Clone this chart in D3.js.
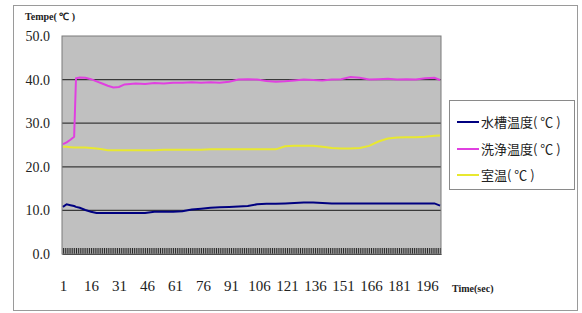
<!DOCTYPE html>
<html lang="en">
<head>
    <meta charset="UTF-8">
    <title>Temperature</title>
    <script src="https://d3js.org/d3.v7.min.js"></script>
    <style>
        body { margin: 0; background: #fff; }
        #canvas { display: block; }
        .tick text { font-family: "Liberation Serif", serif; fill: #222; }
        .legendText { font-family: "Noto Sans CJK JP", sans-serif; font-size: 13px; fill: #222; }
        .axisTitle { font-family: "Liberation Serif", serif; font-size: 10px; font-weight: bold; fill: #222; }
    </style>
</head>
<body>
<svg id="canvas" width="582" height="313"></svg>
<script>
    // time samples (sec) and the three series
    let times = [1, 3, 5, 7, 8, 10, 13, 16, 19, 22, 25, 28, 31, 34, 37, 40,
        45, 50, 55, 60, 65, 70, 75, 80, 85, 90, 95, 100, 105, 110, 115, 120,
        125, 130, 135, 140, 145, 150, 155, 160, 165, 170, 175, 180, 185, 190, 195, 200, 203]

    let tankTemp = [10.8, 11.4, 11.2, 11.0, 10.8, 10.6, 10.1, 9.7, 9.4, 9.4, 9.4, 9.4, 9.4, 9.4, 9.4, 9.4,
        9.4, 9.7, 9.7, 9.7, 9.8, 10.2, 10.4, 10.6, 10.7, 10.8, 10.9, 11.0, 11.4, 11.5, 11.5, 11.6,
        11.7, 11.8, 11.8, 11.7, 11.6, 11.6, 11.6, 11.6, 11.6, 11.6, 11.6, 11.6, 11.6, 11.6, 11.6, 11.6, 11.1]

    let washTemp = [25.2, 25.6, 26.2, 26.9, 40.3, 40.5, 40.4, 40.1, 39.6, 39.1, 38.6, 38.2, 38.3, 38.9, 39.0, 39.1,
        39.0, 39.2, 39.1, 39.3, 39.3, 39.4, 39.3, 39.4, 39.3, 39.5, 40.0, 40.1, 40.0, 39.7, 39.5, 39.6,
        39.8, 40.0, 39.9, 39.8, 40.0, 40.1, 40.6, 40.4, 40.0, 40.1, 40.2, 40.0, 40.1, 40.0, 40.3, 40.4, 39.9]

    let roomTemp = [24.6, 24.6, 24.5, 24.4, 24.4, 24.4, 24.4, 24.3, 24.2, 24.0, 23.8, 23.8, 23.8, 23.8, 23.8, 23.8,
        23.8, 23.8, 23.9, 23.9, 23.9, 23.9, 23.9, 24.0, 24.0, 24.0, 24.0, 24.0, 24.0, 24.0, 24.0, 24.7,
        24.8, 24.8, 24.8, 24.6, 24.3, 24.2, 24.2, 24.3, 24.8, 25.8, 26.5, 26.7, 26.8, 26.8, 26.9, 27.1, 27.2]

    let categories = d3.range(1, 204)
    let xLabels = [1, 16, 31, 46, 61, 76, 91, 106, 121, 136, 151, 166, 181, 196]
    let yTicks = [0, 10, 20, 30, 40, 50]

    let seriesNames = ["水槽温度( ℃ )", "洗浄温度( ℃ )", "室温( ℃ )"]
    let seriesColors = ["#000080", "#e040e0", "#e8e830"]
    let seriesData = [tankTemp, washTemp, roomTemp]

    let svg = d3.select('#canvas')
    let plot = {left: 62, right: 441, top: 36, bottom: 254}

    // chart area border
    svg.append("rect")
        .attr("x", 13.5).attr("y", 5.5)
        .attr("width", 564).attr("height", 305)
        .attr("fill", "#fff").attr("stroke", "#9a9a9a")

    let x = d3.scalePoint().domain(categories).range([plot.left, plot.right]).padding(0.5)
    let y = d3.scaleLinear().domain([0, 50]).range([plot.bottom, plot.top])

    // plot background
    svg.append("rect")
        .attr("x", plot.left).attr("y", plot.top)
        .attr("width", plot.right - plot.left).attr("height", plot.bottom - plot.top)
        .attr("fill", "#c0c0c0")

    // gridlines
    svg.append("g").selectAll("line")
        .data(yTicks.slice(1, 5))
        .enter().append("line")
        .attr("x1", plot.left).attr("x2", plot.right)
        .attr("y1", d => y(d)).attr("y2", d => y(d))
        .attr("stroke", "#3a3a3a").attr("stroke-width", 1.3)

    // y axis labels
    let yAxis = svg.append("g")
        .attr("transform", "translate(" + plot.left + ",0)")
        .call(d3.axisLeft(y).tickValues(yTicks).tickFormat(d3.format(".1f")).tickSize(0).tickPadding(12))
    yAxis.select(".domain").remove()
    yAxis.selectAll("text").style("font-size", "14px")

    // dense category tick marks along the bottom
    let tickAxis = svg.append("g")
        .attr("transform", "translate(0," + plot.bottom + ")")
        .call(d3.axisBottom(x).tickValues(categories).tickSizeInner(-6).tickSizeOuter(0).tickFormat(""))
    tickAxis.select(".domain").attr("stroke", "#222")
    tickAxis.selectAll(".tick line").attr("stroke", "#151515").attr("stroke-width", 0.9)

    // x labels
    let xAxis = svg.append("g")
        .attr("transform", "translate(0," + plot.bottom + ")")
        .call(d3.axisBottom(x).tickValues(xLabels).tickSize(0).tickPadding(26))
    xAxis.select(".domain").remove()
    xAxis.selectAll("text").style("font-size", "15px")

    // plot border
    svg.append("rect")
        .attr("x", plot.left).attr("y", plot.top)
        .attr("width", plot.right - plot.left).attr("height", plot.bottom - plot.top)
        .attr("fill", "none").attr("stroke", "#7a7a7a")

    // lines
    let line = d3.line()
        .x(d => x(d[0]))
        .y(d => y(d[1]))

    seriesData.forEach(function (values, i) {
        svg.append("path")
            .datum(times.map((t, j) => [t, values[j]]))
            .attr("d", line)
            .attr("fill", "none")
            .attr("stroke", seriesColors[i])
            .attr("stroke-width", 2)
    })

    // axis titles
    svg.append("text").attr("class", "axisTitle")
        .attr("x", 25).attr("y", 20).text("Tempe( ℃ )")
    svg.append("text").attr("class", "axisTitle")
        .attr("x", 452).attr("y", 292).text("Time(sec)")

    // legend
    let legend = svg.append("g")
    legend.append("rect")
        .attr("x", 449.5).attr("y", 100.5)
        .attr("width", 125).attr("height", 89)
        .attr("fill", "#fff").attr("stroke", "#8a8a8a")
    let legendY = [122, 149, 175]
    seriesNames.forEach(function (name, i) {
        legend.append("line")
            .attr("x1", 457).attr("x2", 479)
            .attr("y1", legendY[i]).attr("y2", legendY[i])
            .attr("stroke", seriesColors[i]).attr("stroke-width", 2)
        legend.append("text").attr("class", "legendText")
            .attr("x", 481).attr("y", legendY[i] + 4.5)
            .text(name)
    })
</script>
</body>
</html>
